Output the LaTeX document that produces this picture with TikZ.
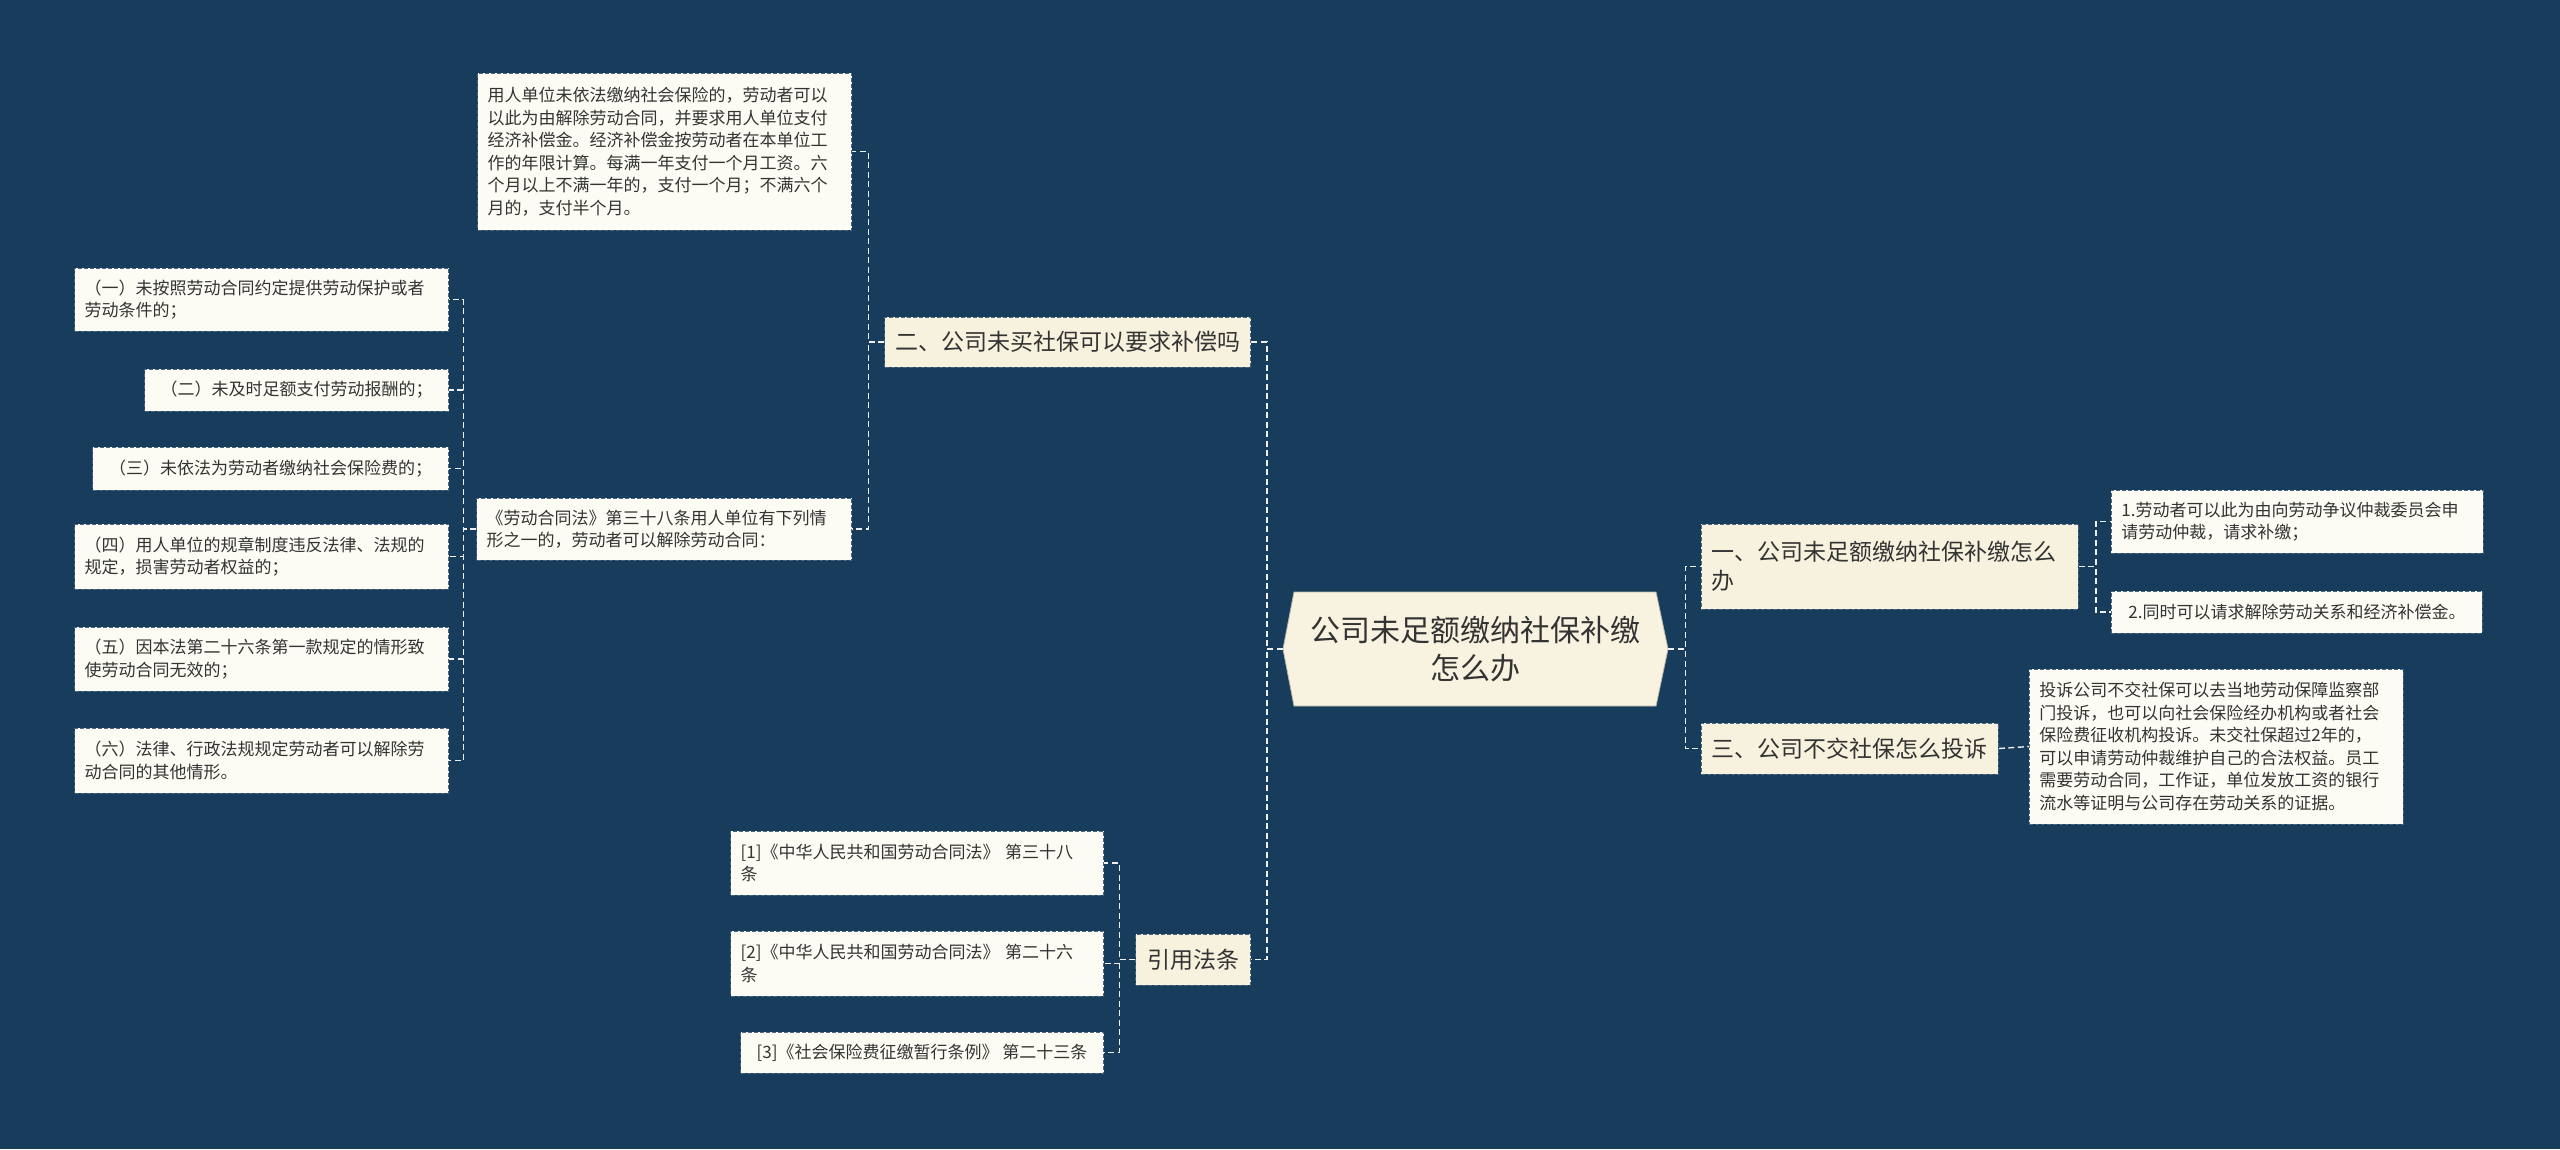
\documentclass[tikz,border=0pt]{standalone}
\usepackage{fontspec}
\setmainfont{Noto Sans CJK SC}
\usetikzlibrary{calc}
\definecolor{bgc}{HTML}{183C5C}
\definecolor{leaffill}{HTML}{FDFCF4}
\definecolor{midfill}{HTML}{F7F2DE}
\definecolor{rootfill}{HTML}{F8F3E0}
\definecolor{txt}{HTML}{333333}
\definecolor{bord}{HTML}{4A6580}
\begin{document}
\begin{tikzpicture}[x=1pt,y=-1pt,
  boxbase/.style={draw=bord, line width=0.8pt, dash pattern=on 4pt off 2pt, text=txt, inner xsep=10pt, inner ysep=0pt},
  leaf/.style={boxbase, fill=leaffill, font=\fontsize{17}{22.5}\selectfont, align=left},
  mid/.style={boxbase, fill=midfill, font=\fontsize{23}{29}\selectfont, align=left},
  conn/.style={draw=white!92!bgc, line width=1.4pt, dash pattern=on 6pt off 3.5pt}
]
\fill[bgc] (0,0) rectangle (2560,1149);
\useasboundingbox (0,0) rectangle (2560,1149);

% root
\filldraw[fill=rootfill, draw=rootfill!75!black, line width=0.8pt]
  (1283,649) -- (1294,592) -- (1656,592) -- (1668,649) -- (1656,706) -- (1294,706) -- cycle;
\node[text=txt, font=\fontsize{30}{38}\selectfont, align=center, minimum width=385pt, minimum height=114pt, inner sep=0pt] (root) at (1475.5,649) {公司未足额缴纳社保补缴\\怎么办};

% level 1
\node[mid, anchor=east, minimum width=366pt, minimum height=50pt] (n2) at (1251,342) {二、公司未买社保可以要求补偿吗};
\node[mid, anchor=east, minimum width=115pt, minimum height=51pt] (cite) at (1251,959.5) {引用法条};
\node[mid, anchor=west, text width=357pt, minimum height=85pt] (n1) at (1701,566.5) {一、公司未足额缴纳社保补缴怎么\\办};
\node[mid, anchor=west, minimum width=297pt, minimum height=51pt] (n3) at (1701,748.5) {三、公司不交社保怎么投诉};

% left leaves
\node[leaf, anchor=east, text width=354pt, minimum height=157pt] (a) at (852,151.5) {用人单位未依法缴纳社会保险的，劳动者可以\\以此为由解除劳动合同，并要求用人单位支付\\经济补偿金。经济补偿金按劳动者在本单位工\\作的年限计算。每满一年支付一个月工资。六\\个月以上不满一年的，支付一个月；不满六个\\月的，支付半个月。};
\node[leaf, anchor=east, text width=355pt, minimum height=62pt] (law) at (852,529) {《劳动合同法》第三十八条用人单位有下列情\\形之一的，劳动者可以解除劳动合同：};
\node[leaf, anchor=east, text width=354pt, minimum height=63pt] (l1) at (449,299.5) {（一）未按照劳动合同约定提供劳动保护或者\\劳动条件的；};
\node[leaf, anchor=east, minimum width=304pt, minimum height=42pt] (l2) at (449,390) {（二）未及时足额支付劳动报酬的；};
\node[leaf, anchor=east, minimum width=356pt, minimum height=43pt] (l3) at (449,468.5) {（三）未依法为劳动者缴纳社会保险费的；};
\node[leaf, anchor=east, text width=354pt, minimum height=65pt] (l4) at (449,556.5) {（四）用人单位的规章制度违反法律、法规的\\规定，损害劳动者权益的；};
\node[leaf, anchor=east, text width=354pt, minimum height=64pt] (l5) at (449,659) {（五）因本法第二十六条第一款规定的情形致\\使劳动合同无效的；};
\node[leaf, anchor=east, text width=354pt, minimum height=65pt] (l6) at (449,760.5) {（六）法律、行政法规规定劳动者可以解除劳\\动合同的其他情形。};
\node[leaf, anchor=east, text width=353pt, minimum height=64pt] (c1) at (1104,863) {[1]《中华人民共和国劳动合同法》 第三十八\\条};
\node[leaf, anchor=east, text width=353pt, minimum height=65pt] (c2) at (1104,963.5) {[2]《中华人民共和国劳动合同法》 第二十六\\条};
\node[leaf, anchor=east, minimum width=363pt, minimum height=41pt] (c3) at (1104,1052.5) {[3]《社会保险费征缴暂行条例》 第二十三条};

% right leaves
\node[leaf, anchor=west, text width=352pt, minimum height=63pt] (r1) at (2111,521.5) {1.劳动者可以此为由向劳动争议仲裁委员会申\\请劳动仲裁，请求补缴；};
\node[leaf, anchor=west, minimum width=371pt, minimum height=42pt] (r2) at (2111,612) {2.同时可以请求解除劳动关系和经济补偿金。};
\node[leaf, anchor=west, text width=354pt, minimum height=155pt] (r3) at (2029,746.5) {投诉公司不交社保可以去当地劳动保障监察部\\门投诉，也可以向社会保险经办机构或者社会\\保险费征收机构投诉。未交社保超过2年的，\\可以申请劳动仲裁维护自己的合法权益。员工\\需要劳动合同，工作证，单位发放工资的银行\\流水等证明与公司存在劳动关系的证据。};

% connectors
\draw[conn] (root.west) -- ++(-16,0) |- (n2.east);
\draw[conn] (root.west) -- ++(-16,0) |- (cite.east);
\draw[conn] (root.east) -- ++(17,0) |- (n1.west);
\draw[conn] (root.east) -- ++(17,0) |- (n3.west);

\draw[conn] (n2.west) -- ++(-16,0) |- (a.east);
\draw[conn] (n2.west) -- ++(-16,0) |- (law.east);

\foreach \k in {l1,l2,l3,l4,l5,l6}
  \draw[conn] (law.west) -- ++(-13,0) |- (\k.east);

\foreach \k in {c1,c2,c3}
  \draw[conn] (cite.west) -- ++(-16,0) |- (\k.east);

\draw[conn] (n1.east) -- ++(17,0) |- (r1.west);
\draw[conn] (n1.east) -- ++(17,0) |- (r2.west);
\draw[conn] (n3.east) -- (r3.west);
\end{tikzpicture}
\end{document}
